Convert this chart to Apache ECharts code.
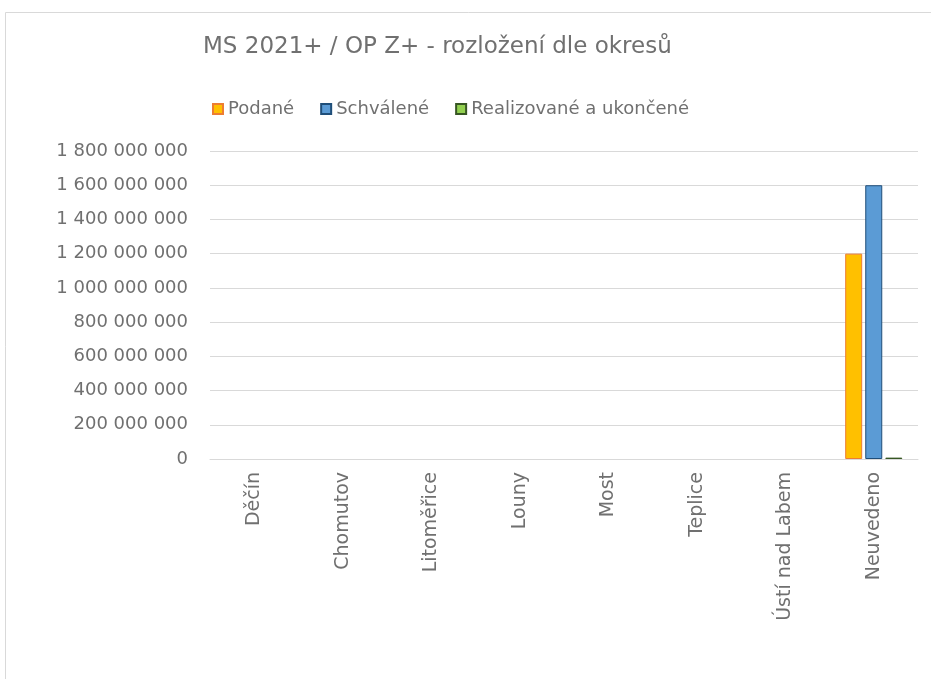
<!DOCTYPE html>
<html>
<head>
<meta charset="utf-8">
<script src="https://cdn.jsdelivr.net/npm/echarts@6/dist/echarts.min.js"></script>
<style>
  html, body { margin: 0; padding: 0; background: #fff; }
  #container { width: 931px; height: 679px; }
</style>
</head>
<body>
<div id="container"></div>
<script>
var okresy = ['Děčín', 'Chomutov', 'Litoměřice', 'Louny', 'Most', 'Teplice', 'Ústí nad Labem', 'Neuvedeno'];
// prázdné okresy nemají v grafu žádný sloupec
var podane = [null, null, null, null, null, null, null, 1200000000];
var schvalene = [null, null, null, null, null, null, null, 1600000000];
var realizovane = [null, null, null, null, null, null, null, 8000000];

var FONT = 'DejaVu Sans';
var TXT = '#707070';

var myChart = echarts.init(document.getElementById('container'));

function fmt(v) {
	return String(v).replace(/\B(?=(\d{3})+(?!\d))/g, ' ');
}

myChart.setOption({
	backgroundColor: '#fff',
	animation: false,
	graphic: [{
		type: 'rect',
		shape: { x: 5.5, y: 12.5, width: 1000, height: 1000 },
		style: { fill: 'none', stroke: '#d9d9d9', lineWidth: 1 },
		silent: true
	}],
	title: {
		text: 'MS 2021+ / OP Z+ - rozložení dle okresů',
		left: 198,
		top: 31,
		textStyle: {
			fontFamily: FONT,
			fontWeight: 'normal',
			fontSize: 23,
			color: TXT
		}
	},
	legend: {
		left: 207,
		top: 95,
		icon: 'rect',
		itemWidth: 10,
		itemHeight: 10,
		itemGap: 26,
		textStyle: {
			fontFamily: FONT,
			fontSize: 18,
			color: TXT
		},
		data: ['Podané', 'Schválené', 'Realizované a ukončené']
	},
	grid: {
		left: 210,
		right: 13,
		top: 151,
		bottom: 220
	},
	xAxis: {
		type: 'category',
		data: okresy,
		axisLine: { lineStyle: { color: '#d9d9d9', width: 1 } },
		axisTick: { show: false },
		axisLabel: {
			rotate: 90,
			margin: 13,
			fontFamily: FONT,
			fontSize: 19,
			color: TXT,
			interval: 0
		}
	},
	yAxis: {
		type: 'value',
		min: 0,
		max: 1800000000,
		interval: 200000000,
		axisLine: { show: false },
		axisTick: { show: false },
		splitLine: { lineStyle: { color: '#d9d9d9', width: 1 } },
		axisLabel: {
			margin: 22,
			fontFamily: FONT,
			fontSize: 18,
			color: TXT,
			formatter: fmt
		}
	},
	series: [{
		name: 'Podané',
		type: 'bar',
		data: podane,
		barWidth: 17,
		barGap: '18%',
		itemStyle: { color: '#FFC000', borderColor: '#ED7D31', borderWidth: 1 }
	}, {
		name: 'Schválené',
		type: 'bar',
		data: schvalene,
		barWidth: 17,
		barGap: '18%',
		itemStyle: { color: '#5B9BD5', borderColor: '#1F4E79', borderWidth: 1 }
	}, {
		name: 'Realizované a ukončené',
		type: 'bar',
		data: realizovane,
		barWidth: 17,
		barGap: '18%',
		itemStyle: { color: '#92D050', borderColor: '#375623', borderWidth: 1 }
	}]
});
</script>
</body>
</html>
